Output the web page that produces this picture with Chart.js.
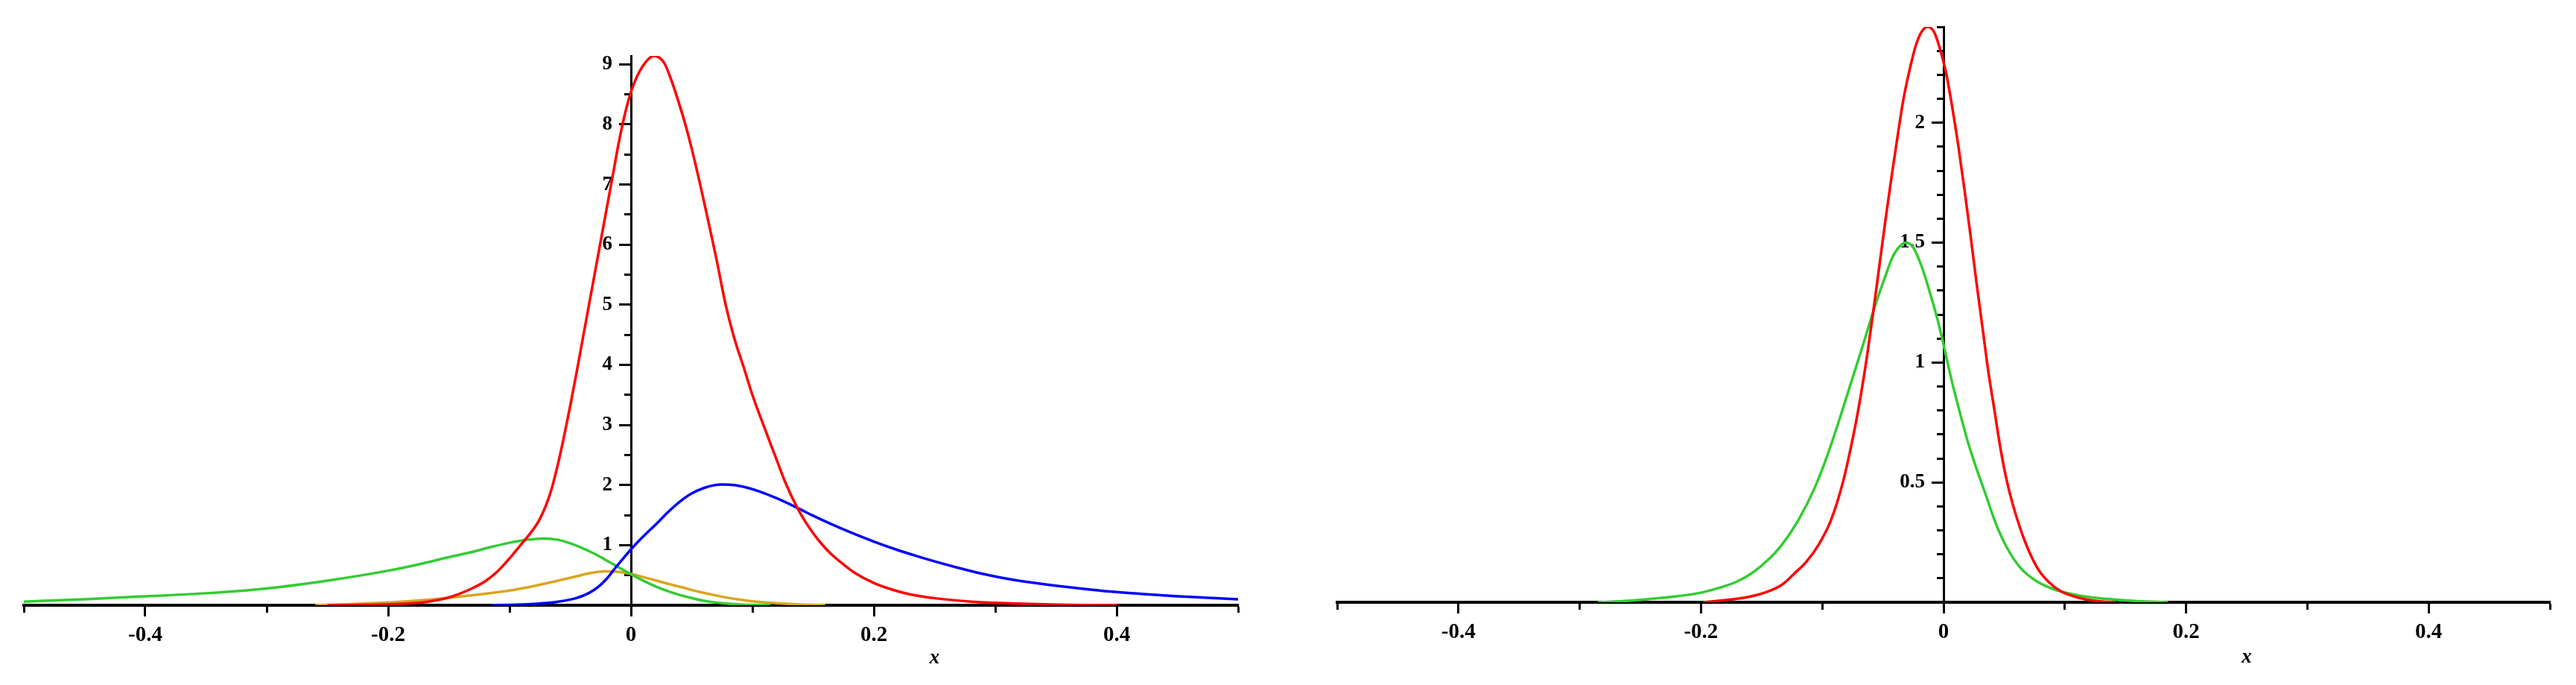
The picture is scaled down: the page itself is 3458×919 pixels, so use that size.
<!DOCTYPE html>
<html>
<head>
<meta charset="utf-8">
<script src="https://cdn.jsdelivr.net/npm/chart.js@4/dist/chart.umd.min.js"></script>
<style>
html,body{margin:0;padding:0;background:#fff;overflow:hidden}
#wrap{position:relative;width:3458px;height:919px;background:#fff}
canvas{position:absolute;top:0}
</style>
</head>
<body>
<div id="wrap">
<canvas id="c1" width="1729" height="919" style="left:0"></canvas>
<canvas id="c2" width="1729" height="919" style="left:1729px"></canvas>
</div>
<script>
// ---------- tick values and labels ----------
const xTicks = [-0.5,-0.4,-0.3,-0.2,-0.1,0,0.1,0.2,0.3,0.4,0.5];
const xTickLabels = ['','-0.4','','-0.2','','0','','0.2','','0.4',''];

const leftYTicks = [0.5,1,1.5,2,2.5,3,3.5,4,4.5,5,5.5,6,6.5,7,7.5,8,8.5,9];
const leftYTickLabels = ['','1','','2','','3','','4','','5','','6','','7','','8','','9'];

const rightYTicks = [0.1,0.2,0.3,0.4,0.5,0.6,0.7,0.8,0.9,1,1.1,1.2,1.3,1.4,1.5,1.6,1.7,1.8,1.9,2,2.1,2.2,2.3,2.4];
const rightYTickLabels = ['','','','','0.5','','','','','1','','','','','1.5','','','','','2','','','',''];

// ---------- left panel series ----------
const leftRedX = [-0.25,-0.2,-0.18,-0.167,-0.15,-0.132,-0.12,-0.11,-0.1,-0.095,-0.088,-0.082,-0.076,-0.07,-0.065,-0.06,-0.055,-0.05,-0.045,-0.04,-0.035,-0.03,-0.025,-0.02,-0.015,-0.01,-0.005,0,0.005,0.01,0.015,0.019,0.024,0.028,0.033,0.038,0.0448,0.05,0.057,0.063,0.07,0.078,0.085,0.093,0.1,0.11,0.12,0.127,0.137,0.1436,0.15,0.157,0.165,0.175,0.185,0.2,0.215,0.23,0.253,0.28,0.3,0.323,0.345,0.37,0.4];
const leftRedY = [0,0.015,0.035,0.06,0.13,0.27,0.4,0.56,0.78,0.9,1.07,1.22,1.4,1.66,1.96,2.36,2.82,3.32,3.85,4.4,4.95,5.5,6.05,6.6,7.15,7.7,8.17,8.54,8.8,8.98,9.1,9.14,9.1,9.0,8.75,8.45,8.0,7.6,7.0,6.45,5.8,5.0,4.45,3.95,3.5,2.95,2.42,2.05,1.62,1.39,1.2,1.02,0.85,0.68,0.53,0.37,0.26,0.18,0.11,0.06,0.04,0.025,0.012,0.004,0];

const leftBlueX = [-0.115,-0.1,-0.09,-0.08,-0.07,-0.06,-0.05,-0.045,-0.04,-0.035,-0.03,-0.025,-0.02,-0.016,-0.0125,-0.008,-0.004,0,0.006,0.012,0.0227,0.03,0.04,0.05,0.06,0.068,0.075,0.085,0.095,0.105,0.12,0.137,0.15,0.165,0.18,0.2,0.218,0.235,0.25,0.27,0.288,0.31,0.34,0.37,0.394,0.42,0.45,0.475,0.5];
const leftBlueY = [0,0.006,0.012,0.022,0.037,0.06,0.095,0.12,0.155,0.2,0.26,0.34,0.44,0.54,0.63,0.74,0.835,0.93,1.06,1.18,1.39,1.54,1.72,1.86,1.95,1.995,2.01,2.0,1.96,1.9,1.78,1.62,1.49,1.35,1.22,1.06,0.93,0.82,0.73,0.62,0.53,0.44,0.35,0.28,0.23,0.19,0.15,0.125,0.1];

const leftGreenX = [-0.5,-0.45,-0.4,-0.35,-0.3,-0.25,-0.2,-0.175,-0.15,-0.132,-0.115,-0.1,-0.085,-0.072,-0.06,-0.05,-0.04,-0.03,-0.02,-0.01,0,0.01,0.02,0.03,0.04,0.05,0.06,0.07,0.08,0.09,0.1,0.115];
const leftGreenY = [0.06,0.1,0.15,0.2,0.28,0.41,0.575,0.68,0.8,0.88,0.97,1.04,1.09,1.11,1.09,1.03,0.95,0.855,0.745,0.63,0.515,0.41,0.315,0.237,0.172,0.12,0.075,0.045,0.025,0.013,0.006,0];

const leftGoldX = [-0.26,-0.23,-0.2,-0.175,-0.15,-0.125,-0.1,-0.08,-0.06,-0.045,-0.035,-0.022,-0.01,0,0.01,0.02,0.03,0.0416,0.055,0.065,0.077,0.09,0.1,0.112,0.125,0.135,0.145,0.16];
const leftGoldY = [0,0.02,0.045,0.08,0.125,0.18,0.245,0.32,0.41,0.48,0.53,0.565,0.555,0.52,0.47,0.415,0.36,0.3,0.23,0.185,0.135,0.092,0.066,0.045,0.027,0.017,0.009,0];

// ---------- right panel series ----------
const rightRedX = [-0.198,-0.178,-0.163,-0.148,-0.133,-0.123,-0.113,-0.103,-0.093,-0.083,-0.073,-0.068,-0.063,-0.058,-0.053,-0.048,-0.043,-0.038,-0.033,-0.028,-0.023,-0.018,-0.013,-0.008,-0.003,0.002,0.007,0.012,0.017,0.022,0.027,0.032,0.037,0.042,0.047,0.052,0.057,0.067,0.077,0.087,0.097,0.112,0.127,0.142];
const rightRedY = [0,0.01,0.02,0.039,0.074,0.12,0.17,0.24,0.34,0.5,0.73,0.87,1.03,1.21,1.4,1.59,1.77,1.94,2.1,2.22,2.32,2.38,2.4,2.38,2.31,2.21,2.07,1.91,1.73,1.54,1.34,1.15,0.96,0.8,0.64,0.51,0.41,0.255,0.146,0.083,0.045,0.018,0.005,0];

const rightGreenX = [-0.285,-0.26,-0.24,-0.22,-0.2,-0.185,-0.17,-0.157,-0.144,-0.134,-0.12,-0.106,-0.096,-0.086,-0.076,-0.066,-0.0556,-0.048,-0.042,-0.036,-0.031,-0.025,-0.018,-0.01,-0.005,0,0.006,0.013,0.02,0.027,0.034,0.043,0.052,0.064,0.077,0.09,0.105,0.12,0.14,0.16,0.185];
const rightGreenY = [0,0.006,0.015,0.025,0.04,0.06,0.087,0.125,0.18,0.235,0.34,0.48,0.61,0.76,0.92,1.08,1.25,1.36,1.44,1.485,1.5,1.48,1.4,1.27,1.18,1.075,0.94,0.8,0.67,0.56,0.46,0.33,0.23,0.14,0.087,0.056,0.035,0.022,0.012,0.005,0];

// ---------- helpers ----------
const RED = '#ff0000', BLUE = '#0000ff', GREEN = '#33cc33', GOLD = '#daa520';
const FONT = '"Liberation Serif", "Times New Roman", serif';

function pts(xs, ys) { return xs.map((x, i) => ({ x: x, y: ys[i] })); }
function ds(xs, ys, color) {
  return { data: pts(xs, ys), borderColor: color, backgroundColor: color, borderWidth: 3.5,
           pointRadius: 0, showLine: true, fill: false, cubicInterpolationMode: 'monotone' };
}

const xTitlePlugin = {
  id: 'xTitle',
  afterDraw(chart, args, opts) {
    const ctx = chart.ctx, xs = chart.scales.x;
    ctx.save();
    ctx.font = 'italic bold 27px ' + FONT;
    ctx.fillStyle = '#000';
    ctx.textAlign = 'center';
    ctx.textBaseline = 'middle';
    ctx.fillText(opts.text, xs.getPixelForValue(opts.at), opts.y);
    ctx.restore();
  }
};

function makeChart(id, datasets, yMax, yTicks, yLabels, pad, xHeight, titleY) {
  return new Chart(document.getElementById(id), {
    type: 'scatter',
    data: { datasets: datasets },
    plugins: [xTitlePlugin],
    options: {
      responsive: false,
      animation: false,
      devicePixelRatio: 1,
      layout: { padding: pad },
      plugins: { legend: { display: false }, tooltip: { enabled: false },
                 xTitle: { text: 'x', at: 0.25, y: titleY } },
      scales: {
        x: {
          type: 'linear', position: 'bottom', min: -0.5, max: 0.5,
          afterBuildTicks: s => { s.ticks = xTicks.map(v => ({ value: v })); },
          afterFit: s => { s.height = xHeight; },
          ticks: { autoSkip: false, maxRotation: 0, minRotation: 0, padding: 8, color: '#000',
                   font: { family: FONT, size: 29, weight: 'bold' },
                   callback: (v, i) => xTickLabels[i] },
          grid: { drawOnChartArea: false, drawTicks: true, tickLength: 15, tickWidth: 3, tickColor: '#000',
                  tickBorderDash: c => (xTickLabels[c.index] ? [] : [8, 200]) },
          border: { display: true, color: '#000', width: 4 }
        },
        y: {
          type: 'linear', position: 'center', min: 0, max: yMax,
          afterBuildTicks: s => { s.ticks = yTicks.map(v => ({ value: v })); },
          afterFit: s => { s.width = 0; },
          ticks: { autoSkip: false, padding: 10, color: '#000',
                   font: { family: FONT, size: 27, weight: 'bold' },
                   callback: (v, i) => yLabels[i] },
          grid: { drawOnChartArea: false, drawTicks: true, tickLength: 15, tickWidth: 3, tickColor: '#000',
                  tickBorderDash: c => (yLabels[c.index] ? [] : [8, 200]) },
          border: { display: true, color: '#000', width: 3 }
        }
      }
    }
  });
}

makeChart('c1', [
  ds(leftRedX, leftRedY, RED),
  ds(leftBlueX, leftBlueY, BLUE),
  ds(leftGreenX, leftGreenY, GREEN),
  ds(leftGoldX, leftGoldY, GOLD)
], 9.14, leftYTicks, leftYTickLabels, { left: 32, right: 67, top: 75, bottom: 0 }, 107, 883);

makeChart('c2', [
  ds(rightRedX, rightRedY, RED),
  ds(rightGreenX, rightGreenY, GREEN)
], 2.40, rightYTicks, rightYTickLabels, { left: 66, right: 35, top: 36, bottom: 0 }, 111, 882);
</script>
</body>
</html>
